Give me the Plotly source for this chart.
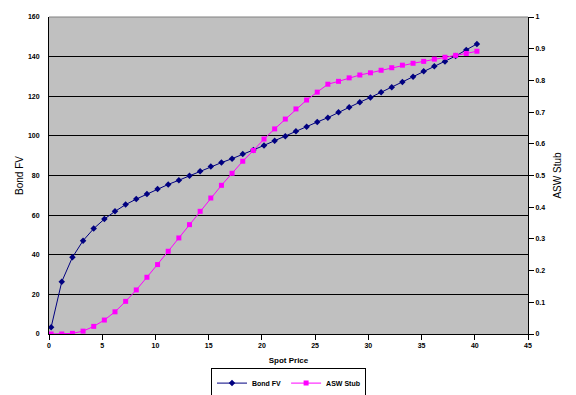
import plotly.graph_objects as go

spot = [i + 0.2 for i in range(41)]
bond_fv = [3.4, 26.4, 38.7, 47.1, 53.2, 58.0, 61.9, 65.3, 68.1, 70.7,
           73.2, 75.5, 77.6, 79.9, 82.2, 84.5, 86.5, 88.5, 90.9, 92.9,
           95.2, 97.6, 99.8, 102.3, 104.6, 107.0, 109.2, 111.9, 114.4, 117.0,
           119.4, 122.0, 124.5, 127.2, 129.9, 132.6, 135.1, 137.6, 140.3, 143.4,
           146.4]
asw_stub = [0.000, 0.000, 0.002, 0.009, 0.024, 0.044, 0.070, 0.103, 0.139, 0.179,
            0.219, 0.261, 0.303, 0.345, 0.387, 0.429, 0.469, 0.507, 0.545, 0.579,
            0.615, 0.647, 0.678, 0.710, 0.738, 0.763, 0.788, 0.797, 0.808, 0.817,
            0.824, 0.832, 0.840, 0.848, 0.854, 0.860, 0.867, 0.873, 0.879, 0.885,
            0.892]

x_ticks = [0, 5, 10, 15, 20, 25, 30, 35, 40, 45]
y1_ticks = [0, 20, 40, 60, 80, 100, 120, 140, 160]
y2_ticks = [0, 0.1, 0.2, 0.3, 0.4, 0.5, 0.6, 0.7, 0.8, 0.9, 1]

FONT = "Liberation Sans"
tickfont = dict(family=FONT, size=7, color="black", weight="bold")

fig = go.Figure()
fig.add_trace(go.Scatter(
    x=spot, y=bond_fv, name="Bond FV", mode="lines+markers",
    line=dict(color="#000080", width=1),
    marker=dict(symbol="diamond", size=5, color="#000080"),
))
fig.add_trace(go.Scatter(
    x=spot, y=asw_stub, name="ASW Stub", mode="lines+markers", yaxis="y2",
    line=dict(color="#FF00FF", width=1),
    marker=dict(symbol="square", size=5, color="#FF00FF"),
))

# page has an 8px body margin, so the figure is drawn 8px smaller and offset
fig.update_layout(
    width=568, height=387,
    margin=dict(l=41, r=48, t=9, b=61, autoexpand=False),
    paper_bgcolor="white",
    plot_bgcolor="#C0C0C0",
    font=dict(family=FONT, color="black"),
    showlegend=True,
    legend=dict(
        orientation="h", x=0.5, xanchor="center", y=-0.106, yanchor="top",
        bordercolor="black", borderwidth=1, bgcolor="white",
        font=dict(family=FONT, size=7, color="black", weight="bold"),
        itemwidth=30, tracegroupgap=0, entrywidth=0,
    ),
    xaxis=dict(
        range=[0, 45], tickvals=x_ticks, ticktext=[str(v) for v in x_ticks],
        showgrid=False, zeroline=False, showline=True, linecolor="black", linewidth=1,
        ticks="outside", ticklen=5, tickcolor="black", tickfont=tickfont,
        automargin=False,
        title=dict(text="Spot Price", font=dict(family=FONT, size=8, weight="bold"), standoff=8),
    ),
    yaxis=dict(
        range=[0, 160], tickvals=y1_ticks, ticktext=[str(v) for v in y1_ticks],
        showgrid=True, gridcolor="black", gridwidth=1, zeroline=False,
        showline=True, linecolor="black", linewidth=1,
        ticks="outside", ticklen=7, tickcolor="rgba(0,0,0,0)", tickfont=tickfont,
        automargin=False,
        title=dict(text="Bond FV", font=dict(family=FONT, size=10), standoff=2),
    ),
    yaxis2=dict(
        range=[0, 1], tickvals=y2_ticks, ticktext=[str(v) for v in y2_ticks],
        overlaying="y", side="right", showgrid=False, zeroline=False,
        showline=True, linecolor="black", linewidth=1,
        ticks="outside", ticklen=5, tickcolor="black", tickfont=tickfont,
        automargin=False,
        title=dict(text="ASW Stub", font=dict(family=FONT, size=10), standoff=9),
    ),
    shapes=[dict(type="line", xref="paper", yref="paper", x0=0, x1=1, y0=1, y1=1,
                 line=dict(color="#808080", width=1))],
)

fig.write_html("out.html")
